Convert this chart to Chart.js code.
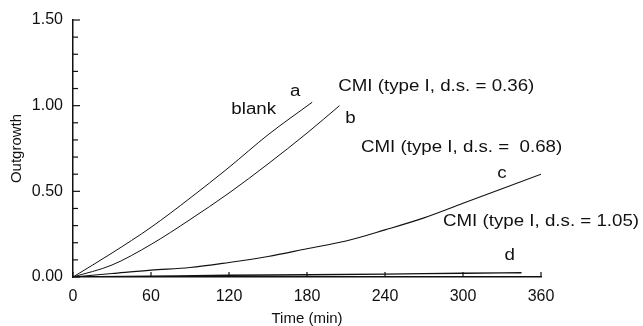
<!DOCTYPE html>
<html>
<head>
<meta charset="utf-8">
<script src="https://cdn.jsdelivr.net/npm/chart.js@4.4.1/dist/chart.umd.min.js"></script>
<style>
  html, body { margin: 0; padding: 0; background: #fff; }
  #wrap { width: 643px; height: 326px; }
</style>
</head>
<body>
<div id="wrap"><canvas id="outgrowthChart" width="643" height="326"></canvas></div>
<script>
// Outgrowth vs time
var timeA = [0, 30, 60, 90, 120, 150, 184];
var blankA = [0, 0.14, 0.29, 0.46, 0.64, 0.83, 1.02];

var timeB = [0, 30, 60, 90, 120, 150, 180, 205];
var cmi036 = [0, 0.07, 0.19, 0.335, 0.49, 0.66, 0.84, 1.0];

var timeC = [0, 30, 60, 90, 120, 150, 180, 210, 240, 270, 300, 330, 360];
var cmi068 = [0, 0.02, 0.04, 0.055, 0.085, 0.12, 0.165, 0.21, 0.275, 0.345, 0.43, 0.515, 0.6];

var timeD = [0, 60, 120, 180, 240, 300, 345];
var cmi105 = [0, 0.005, 0.01, 0.013, 0.017, 0.022, 0.025];

var xTicks = [0, 60, 120, 180, 240, 300, 360];
var yTicks = [0, 0.5, 1.0, 1.5];

// curve labels: [text, time, outgrowth, align]
var curveLabels = [
  ["blank", 139, 0.975, "center"],
  ["a", 171, 1.08, "center"],
  ["CMI (type I, d.s. = 0.36)", 204, 1.112, "left"],
  ["b", 213.5, 0.922, "center"],
  ["CMI (type I, d.s. =  0.68)", 221.5, 0.756, "left"],
  ["c", 330, 0.601, "center"],
  ["CMI (type I, d.s. = 1.05)", 284.6, 0.321, "left"],
  ["d", 336, 0.123, "center"]
];

function toPoints(xs, ys) {
  return xs.map(function (x, i) {
    return { x: x, y: ys[i] };
  });
}

function lineSet(xs, ys, width) {
  return {
    data: toPoints(xs, ys),
    borderColor: "#111",
    borderWidth: width,
    pointRadius: 0,
    cubicInterpolationMode: "monotone",
    fill: false
  };
}

var FONT = '"Liberation Sans", Arial, Helvetica, sans-serif';

// inward tick marks + curve labels
var figurePlugin = {
  id: "figurePlugin",
  afterDraw: function (chart) {
    var ctx = chart.ctx;
    var xs = chart.scales.x;
    var ys = chart.scales.y;
    ctx.save();
    ctx.strokeStyle = "#111";
    ctx.lineWidth = 1.2;
    ys.ticks.forEach(function (t) {
      var py = ys.getPixelForValue(t.value);
      var major = Math.abs(t.value * 2 - Math.round(t.value * 2)) < 1e-6;
      ctx.beginPath();
      ctx.moveTo(xs.left, py);
      ctx.lineTo(xs.left + (major ? 7 : 5), py);
      ctx.stroke();
    });
    xs.ticks.forEach(function (t) {
      var px = xs.getPixelForValue(t.value);
      ctx.beginPath();
      ctx.moveTo(px, ys.bottom);
      ctx.lineTo(px, ys.bottom - 5);
      ctx.stroke();
    });

    // labels in the figure are a wide sans, so stretch Arial a bit
    var stretch = 1.17;
    ctx.fillStyle = "#111";
    ctx.font = "16px " + FONT;
    ctx.textBaseline = "middle";
    curveLabels.forEach(function (l) {
      var px = xs.getPixelForValue(l[1]);
      var py = ys.getPixelForValue(l[2]);
      ctx.save();
      ctx.translate(px, py);
      ctx.scale(stretch, 1);
      ctx.textAlign = l[3];
      ctx.fillText(l[0], 0, 0);
      ctx.restore();
    });
    ctx.restore();
  }
};

var chart = new Chart(document.getElementById("outgrowthChart"), {
  type: "line",
  data: {
    datasets: [
      lineSet(timeA, blankA, 1),
      lineSet(timeB, cmi036, 1),
      lineSet(timeC, cmi068, 1.1),
      lineSet(timeD, cmi105, 1.4)
    ]
  },
  options: {
    responsive: false,
    animation: false,
    layout: { padding: { top: 20, right: 102, left: 0, bottom: 0 } },
    plugins: {
      legend: { display: false },
      tooltip: { enabled: false }
    },
    scales: {
      x: {
        type: "linear",
        min: 0,
        max: 360,
        afterBuildTicks: function (scale) {
          scale.ticks = xTicks.map(function (v) { return { value: v }; });
        },
        afterFit: function (scale) { scale.height = 49; },
        grid: { drawOnChartArea: false, drawTicks: false },
        border: { color: "#111", width: 1.5 },
        ticks: {
          color: "#111",
          padding: 10,
          maxRotation: 0,
          autoSkip: false,
          font: { family: FONT, size: 16 }
        },
        title: {
          display: true,
          text: "Time (min)",
          color: "#111",
          font: { family: FONT, size: 15, lineHeight: 1 },
          padding: { top: 0, bottom: 0 }
        }
      },
      y: {
        min: 0,
        max: 1.5,
        afterBuildTicks: function (scale) {
          var t = [];
          for (var i = 0; i <= 15; i++) t.push({ value: i / 10 });
          scale.ticks = t;
        },
        afterFit: function (scale) { scale.width = 73; },
        grid: { drawOnChartArea: false, drawTicks: false },
        border: { color: "#111", width: 1.5 },
        ticks: {
          color: "#111",
          padding: 10,
          autoSkip: false,
          font: { family: FONT, size: 16 },
          callback: function (v) {
            for (var i = 0; i < yTicks.length; i++) {
              if (Math.abs(v - yTicks[i]) < 1e-6) return yTicks[i].toFixed(2);
            }
            return "";
          }
        },
        title: {
          display: true,
          text: "Outgrowth",
          color: "#111",
          font: { family: FONT, size: 15, lineHeight: 1 },
          padding: { top: 9, bottom: 0 }
        }
      }
    }
  },
  plugins: [figurePlugin]
});
</script>
</body>
</html>
